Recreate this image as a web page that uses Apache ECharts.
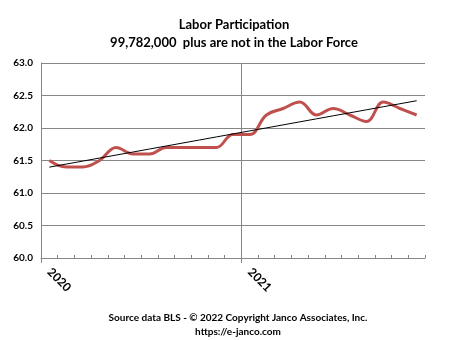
<!DOCTYPE html>
<html>
<head>
<meta charset="utf-8">
<script src="https://cdn.jsdelivr.net/npm/echarts@6/dist/echarts.min.js"></script>
<style>html,body{margin:0;padding:0;background:#fff;}#c{width:455px;height:340px;}</style>
</head>
<body>
<div id="c"></div>
<script>
// Months Jan 2020 .. Nov 2021
const categories = ['2020','Feb 2020','Mar 2020','Apr 2020','May 2020','Jun 2020','Jul 2020','Aug 2020','Sep 2020','Oct 2020','Nov 2020','Dec 2020',
  '2021','Feb 2021','Mar 2021','Apr 2021','May 2021','Jun 2021','Jul 2021','Aug 2021','Sep 2021','Oct 2021','Nov 2021'];
const participation = [61.5,61.4,61.4,61.5,61.7,61.6,61.6,61.7,61.7,61.7,61.7,61.9,
  61.9,62.2,62.3,62.4,62.2,62.3,62.2,62.1,62.4,62.3,62.2];
const yTicks = [60.0,60.5,61.0,61.5,62.0,62.5,63.0];

// linear trendline (least squares)
const n = participation.length;
let sx=0, sy=0, sxy=0, sxx=0;
participation.forEach((v,i)=>{sx+=i;sy+=v;sxy+=i*v;sxx+=i*i;});
const slope = (n*sxy - sx*sy)/(n*sxx - sx*sx);
const icpt = (sy - slope*sx)/n;
const trend = participation.map((v,i)=> +(icpt + slope*i).toFixed(4));
// category boundaries (for year gridlines between Dec and Jan)
const boundaries = categories.map((c,i)=>'b'+i).concat(['b'+n]);
const yearBoundary = (idx)=> idx===0 || idx===12;

const FONT = 'Lato, "Open Sans", sans-serif';
const chart = echarts.init(document.getElementById('c'), null, {renderer:'canvas'});
chart.setOption({
  animation:false,
  backgroundColor:'#fff',
  title:[
    {text:'Labor Participation\n99,782,000  plus are not in the Labor Force', left:229, textAlign:'center', top:11,
     textStyle:{fontFamily:FONT, fontSize:13, fontWeight:'bold', color:'#000', lineHeight:18}},
    {text:'Source data BLS - \u00A9 2022 Copyright Janco Associates, Inc.\nhttps://e-janco.com', left:233, textAlign:'center', top:306,
     textStyle:{fontFamily:FONT, fontSize:10, fontWeight:'bold', color:'#000', lineHeight:14}}
  ],
  grid:{left:41, right:30, top:63, bottom:82, containLabel:false},
  xAxis:[{
    type:'category', data:categories, boundaryGap:true,
    axisLine:{show:true, lineStyle:{color:'#868686', width:1}},
    axisTick:{show:true, inside:true, length:3, interval:0, lineStyle:{color:'#868686'}},
    axisLabel:{interval:11, rotate:-45, margin:12, fontFamily:FONT, fontSize:12, fontWeight:'bold', color:'#000'},
    splitLine:{show:false}
  },{
    type:'category', data:boundaries, boundaryGap:false, position:'bottom',
    axisLine:{show:false},
    axisTick:{show:true, inside:false, length:5, interval:yearBoundary, lineStyle:{color:'#868686'}},
    axisLabel:{show:false},
    splitLine:{show:true, interval:yearBoundary, lineStyle:{color:'#868686', width:1}}
  }],
  yAxis:{
    type:'value', min:yTicks[0], max:yTicks[yTicks.length-1], interval:0.5,
    axisLine:{show:true, lineStyle:{color:'#868686'}},
    axisTick:{show:false},
    axisLabel:{margin:8, fontFamily:FONT, fontSize:10, fontWeight:'bold', color:'#000', formatter:(v)=>v.toFixed(1)},
    splitLine:{show:true, lineStyle:{color:'#868686', width:1}}
  },
  series:[
    {type:'line', data:participation, smooth:0.4, symbol:'none', lineStyle:{color:'#C0504D', width:3}, z:3},
    {type:'line', data:trend, smooth:false, symbol:'none', lineStyle:{color:'#000', width:1}, z:4}
  ]
});
</script>
</body>
</html>
